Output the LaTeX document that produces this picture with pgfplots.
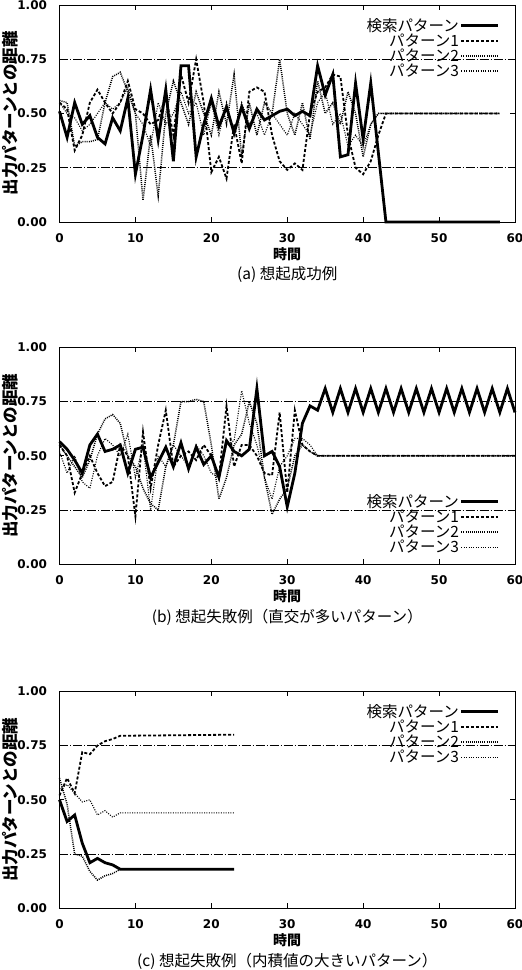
\documentclass[border=0pt]{standalone}
\usepackage{fontspec}
\usepackage{pgfplots}
\usepackage{pgfplotstable}
\pgfplotsset{compat=1.18}
\newfontfamily\cjk{Noto Sans CJK JP}
\newfontfamily\tickfont{DejaVu Sans}

% t  search  pat1  pat2  pat3
\pgfplotstableread{
t s p1 p2 p3
0 0.51 0.55 0.56 0.55
1 0.39 0.52 0.55 0.50
2 0.55 0.33 0.35 0.48
3 0.45 0.40 0.37 0.42
4 0.49 0.55 0.37 0.45
5 0.39 0.61 0.38 0.50
6 0.36 0.55 0.55 0.55
7 0.48 0.50 0.67 0.52
8 0.42 0.55 0.69 0.55
9 0.57 0.65 0.60 0.62
10 0.22 0.52 0.50 0.50
11 0.40 0.50 0.10 0.45
12 0.61 0.45 0.40 0.35
13 0.38 0.47 0.12 0.55
14 0.61 0.58 0.50 0.45
15 0.28 0.40 0.65 0.50
16 0.72 0.68 0.55 0.60
17 0.72 0.55 0.45 0.50
18 0.30 0.75 0.60 0.55
19 0.45 0.55 0.50 0.40
20 0.57 0.23 0.40 0.55
21 0.44 0.30 0.60 0.40
22 0.53 0.20 0.45 0.55
23 0.41 0.45 0.68 0.40
24 0.53 0.27 0.30 0.55
25 0.43 0.60 0.55 0.45
26 0.52 0.62 0.40 0.50
27 0.47 0.60 0.55 0.40
28 0.49 0.40 0.50 0.50
29 0.51 0.28 0.75 0.45
30 0.52 0.24 0.50 0.40
31 0.49 0.27 0.40 0.50
32 0.51 0.24 0.55 0.45
33 0.49 0.50 0.38 0.40
34 0.72 0.60 0.65 0.55
35 0.585 0.62 0.50 0.60
36 0.68 0.68 0.55 0.45
37 0.30 0.67 0.45 0.50
38 0.31 0.40 0.60 0.35
39 0.64 0.25 0.50 0.40
40 0.38 0.22 0.30 0.35
41 0.64 0.28 0.45 0.45
42 0.32 0.40 0.50 0.50
43 0.00 0.50 0.50 0.50
58 0.00 0.50 0.50 0.50
}\dataA

\pgfplotstableread{
t s p1 p2 p3
0 0.565 0.55 0.55 0.52
1 0.53 0.50 0.50 0.42
2 0.48 0.33 0.45 0.50
3 0.42 0.42 0.40 0.38
4 0.55 0.50 0.48 0.35
5 0.60 0.42 0.60 0.50
6 0.52 0.36 0.67 0.58
7 0.53 0.38 0.69 0.55
8 0.55 0.55 0.65 0.50
9 0.42 0.50 0.50 0.60
10 0.53 0.22 0.45 0.40
11 0.54 0.61 0.35 0.55
12 0.40 0.35 0.28 0.25
13 0.47 0.55 0.25 0.50
14 0.54 0.71 0.45 0.45
15 0.45 0.45 0.55 0.55
16 0.56 0.50 0.75 0.50
17 0.44 0.52 0.75 0.45
18 0.54 0.48 0.76 0.55
19 0.46 0.55 0.75 0.50
20 0.50 0.50 0.55 0.42
21 0.40 0.40 0.30 0.40
22 0.57 0.73 0.40 0.55
23 0.52 0.45 0.55 0.57
24 0.50 0.55 0.60 0.80
25 0.53 0.55 0.75 0.65
26 0.81 0.50 0.65 0.55
27 0.50 0.42 0.40 0.40
28 0.52 0.41 0.23 0.30
29 0.45 0.70 0.30 0.45
30 0.265 0.33 0.35 0.50
31 0.42 0.71 0.50 0.58
32 0.65 0.55 0.55 0.58
33 0.73 0.52 0.52 0.55
34 0.71 0.50 0.50 0.50
35 0.81 0.50 0.50 0.50
36 0.70 0.50 0.50 0.50
37 0.81 0.50 0.50 0.50
38 0.70 0.50 0.50 0.50
39 0.81 0.50 0.50 0.50
40 0.70 0.50 0.50 0.50
41 0.81 0.50 0.50 0.50
42 0.70 0.50 0.50 0.50
43 0.81 0.50 0.50 0.50
44 0.70 0.50 0.50 0.50
45 0.81 0.50 0.50 0.50
46 0.70 0.50 0.50 0.50
47 0.81 0.50 0.50 0.50
48 0.70 0.50 0.50 0.50
49 0.81 0.50 0.50 0.50
50 0.70 0.50 0.50 0.50
51 0.81 0.50 0.50 0.50
52 0.70 0.50 0.50 0.50
53 0.81 0.50 0.50 0.50
54 0.70 0.50 0.50 0.50
55 0.81 0.50 0.50 0.50
56 0.70 0.50 0.50 0.50
57 0.81 0.50 0.50 0.50
58 0.70 0.50 0.50 0.50
59 0.81 0.50 0.50 0.50
60 0.70 0.50 0.50 0.50
}\dataB

\pgfplotstableread{
t s p1 p2 p3
0 0.50 0.52 0.60 0.55
1 0.40 0.60 0.48 0.57
2 0.43 0.53 0.25 0.53
3 0.30 0.72 0.24 0.49
4 0.21 0.71 0.17 0.50
5 0.23 0.75 0.13 0.43
6 0.21 0.77 0.15 0.45
7 0.20 0.78 0.16 0.42
8 0.18 0.795 0.18 0.44
23 0.18 0.80 0.18 0.44
}\dataC

\pgfplotsset{
  panel/.style={
    scale only axis, width=455.5pt, height=217pt,
    anchor=south west, clip=false,
    xmin=0, xmax=60, ymin=0, ymax=1,
    xtick={0,10,...,60}, ytick={0,0.25,0.5,0.75,1},
    xtick pos=both, xticklabel pos=bottom,
    ytick pos=both, yticklabel pos=left,
    tick align=inside, major tick length=5pt,
    axis line style={line width=0.8pt}, every tick/.style={line width=0.8pt},
    tick label style={font=\tickfont\bfseries\fontsize{12}{14}\selectfont},
    xticklabel style={yshift=-8pt},
    /pgf/number format/assume math mode=true,
    yticklabel style={xshift=-9pt, /pgf/number format/fixed, /pgf/number format/fixed zerofill,
      /pgf/number format/precision=2},
    xlabel={時間}, ylabel={出力パターンとの距離},
    xlabel style={font=\cjk\bfseries\fontsize{14}{16}\selectfont,
      at={(rel axis cs:0.5,0)}, anchor=center, yshift=-32pt},
    ylabel style={font=\cjk\bfseries\fontsize{16.5}{18}\selectfont,
      at={(rel axis cs:0,0.5)}, anchor=center, yshift=49.5pt},
    reverse legend,
    legend cell align=right, legend plot pos=right,
    legend style={draw=none, fill=none, inner sep=0pt, row sep=-1pt,
      font=\cjk\fontsize{15.5}{17}\selectfont,
      nodes={inner sep=1pt}},
    legend image code/.code={\draw[##1] (0pt,0pt) -- (37pt,0pt);},
  },
  gridl/.style={line width=0.6pt, dash pattern=on 9pt off 2pt on 1pt off 2pt, forget plot},
  srch/.style={line width=2.8pt, black},
  pone/.style={line width=1.8pt, black, dash pattern=on 3pt off 2pt},
  ptwo/.style={line width=1.5pt, black, dash pattern=on 1pt off 1.1pt},
  pthr/.style={line width=1.1pt, black, dash pattern=on 1pt off 1.4pt},
}

\newcommand\capfont{\cjk\fontsize{15.5}{17}\selectfont}

\begin{document}
\begin{tikzpicture}
\path[use as bounding box] (0pt,0pt) rectangle (522pt,970pt);

\begin{axis}[panel, at={(59.5pt,748pt)},
  legend style={at={(rel axis cs:0.967,0.945)}, anchor=north east}]
  \addplot[gridl] coordinates {(0,0.25) (60,0.25)};
  \addplot[gridl] coordinates {(0,0.75) (60,0.75)};
  \addplot[pthr] table[x=t, y=p3] {\dataA};
  \addplot[ptwo] table[x=t, y=p2] {\dataA};
  \addplot[pone] table[x=t, y=p1] {\dataA};
  \addplot[srch] table[x=t, y=s] {\dataA};
  \legend{パターン3, パターン2, パターン1, 検索パターン}
  \node[font=\capfont] at (rel axis cs:0.5,0) [yshift=-53pt] {(a) 想起成功例};
\end{axis}

\begin{axis}[panel, at={(59.5pt,405.7pt)},
  legend style={at={(rel axis cs:0.967,0.04)}, anchor=south east}]
  \addplot[gridl] coordinates {(0,0.25) (60,0.25)};
  \addplot[gridl] coordinates {(0,0.75) (60,0.75)};
  \addplot[pthr] table[x=t, y=p3] {\dataB};
  \addplot[ptwo] table[x=t, y=p2] {\dataB};
  \addplot[pone] table[x=t, y=p1] {\dataB};
  \addplot[srch] table[x=t, y=s] {\dataB};
  \legend{パターン3, パターン2, パターン1, 検索パターン}
  \node[font=\capfont] at (rel axis cs:0.5,0) [yshift=-53pt] {(b) 想起失敗例（直交が多いパターン）};
\end{axis}

\begin{axis}[panel, at={(59.5pt,61.7pt)},
  legend style={at={(rel axis cs:0.967,0.945)}, anchor=north east}]
  \addplot[gridl] coordinates {(0,0.25) (60,0.25)};
  \addplot[gridl] coordinates {(0,0.75) (60,0.75)};
  \addplot[pthr] table[x=t, y=p3] {\dataC};
  \addplot[ptwo] table[x=t, y=p2] {\dataC};
  \addplot[pone] table[x=t, y=p1] {\dataC};
  \addplot[srch] table[x=t, y=s] {\dataC};
  \legend{パターン3, パターン2, パターン1, 検索パターン}
  \node[font=\capfont] at (rel axis cs:0.5,0) [yshift=-53pt] {(c) 想起失敗例（内積値の大きいパターン）};
\end{axis}
\end{tikzpicture}
\end{document}
